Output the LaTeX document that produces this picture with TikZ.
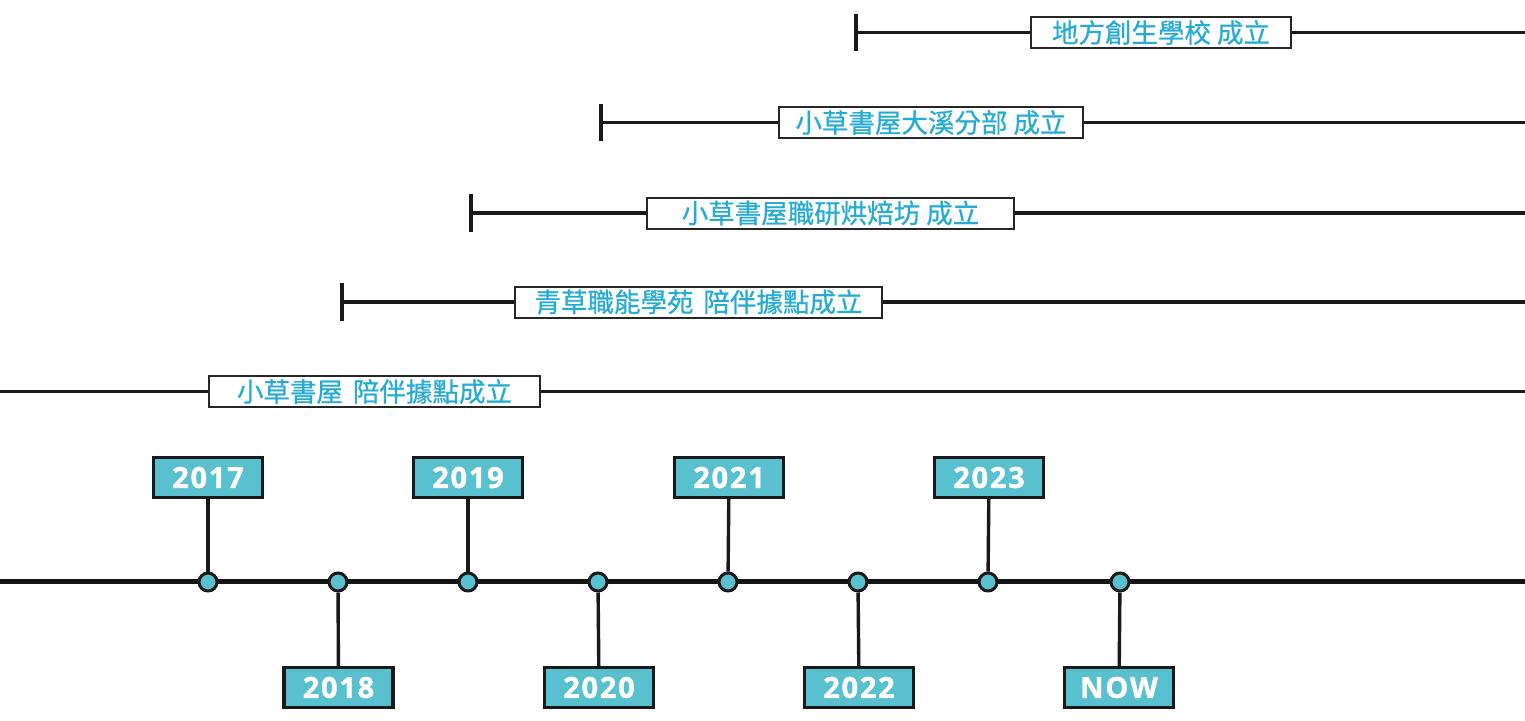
\documentclass[tikz,border=0pt]{standalone}
\usepackage{fontspec}
\newfontfamily\cjk{Noto Sans CJK TC}[FakeBold=0.7]
\newfontfamily\yearfont{Open Sans}[LetterSpace=6,FakeBold=1.2]
\definecolor{labeltext}{RGB}{38,172,212}
\definecolor{teal}{RGB}{88,192,206}
\begin{document}
\begin{tikzpicture}[x=1pt,y=-1pt,
  rangeline/.style={line width=3.2pt,black!90},
  tickline/.style={line width=3.8pt,black!90},
  labelbox/.style={draw=black!85,line width=2pt,fill=white,inner sep=0pt,
    minimum height=31pt,text=labeltext,font=\cjk\fontsize{26.5}{26.5}\selectfont},
  yearbox/.style={draw=black!90,line width=3.2pt,fill=teal,inner sep=0pt,
    minimum width=109pt,minimum height=40pt,text=white,
    font=\yearfont\bfseries\fontsize{29}{29}\selectfont},
  dot/.style={circle,draw=black!90,line width=3pt,fill=teal,inner sep=0pt,minimum size=18pt},
  stem/.style={line width=3.4pt,black!90},
  axis/.style={line width=5pt,black!92}]
\useasboundingbox (0,0) rectangle (1525,720);

% range labels
\node[labelbox,minimum width=260pt] (l1) at (1161,32.5) {地方創生學校\hspace{6pt}成立};
\node[labelbox,minimum width=304pt] (l2) at (931,122.5) {小草書屋大溪分部\hspace{6pt}成立};
\node[labelbox,minimum width=367pt] (l3) at (830.5,213) {小草書屋職研烘焙坊\hspace{6pt}成立};
\node[labelbox,minimum width=367pt] (l4) at (698.5,302) {青草職能學苑\hspace{10pt}陪伴據點成立};
\node[labelbox,minimum width=331pt] (l5) at (374.5,391.5) {小草書屋\hspace{10pt}陪伴據點成立};

\coordinate (s1) at (856,32.5); \coordinate (e1) at (1525,32.5);
\coordinate (s2) at (601,122.5); \coordinate (e2) at (1525,122.5);
\coordinate (s3) at (471,213); \coordinate (e3) at (1525,213);
\coordinate (s4) at (342,302); \coordinate (e4) at (1525,302);
\coordinate (s5) at (0,391.5); \coordinate (e5) at (1525,391.5);

\draw[rangeline] (s1) -- (l1.west); \draw[rangeline] (l1.east) -- (e1);
\draw[rangeline] (s2) -- (l2.west); \draw[rangeline] (l2.east) -- (e2);
\draw[rangeline] (s3) -- (l3.west); \draw[rangeline] (l3.east) -- (e3);
\draw[rangeline] (s4) -- (l4.west); \draw[rangeline] (l4.east) -- (e4);
\draw[rangeline] (s5) -- (l5.west); \draw[rangeline] (l5.east) -- (e5);

\draw[tickline] ([yshift=-18.5pt]s1) -- ([yshift=18.5pt]s1);
\draw[tickline] ([yshift=-18.5pt]s2) -- ([yshift=18.5pt]s2);
\draw[tickline] ([yshift=-19pt]s3) -- ([yshift=19pt]s3);
\draw[tickline] ([yshift=-19pt]s4) -- ([yshift=19pt]s4);

% axis
\coordinate (axL) at (0,581); \coordinate (axR) at (1525,581);
\draw[axis] (axL) -- (axR);

% year boxes
\node[yearbox] (y17) at (208,477.5) {2017};
\node[yearbox] (y18) at (338.5,687.5) {2018};
\node[yearbox] (y19) at (468,477.5) {2019};
\node[yearbox] (y20) at (599,687.5) {2020};
\node[yearbox] (y21) at (729,477.5) {2021};
\node[yearbox] (y22) at (859,687.5) {2022};
\node[yearbox] (y23) at (989,477.5) {2023};
\node[yearbox] (ynow) at (1119,687.5) {NOW};

% dots
\node[dot] (d17) at (208,582) {};
\node[dot] (d18) at (338,582) {};
\node[dot] (d19) at (468,582) {};
\node[dot] (d20) at (598,582) {};
\node[dot] (d21) at (728,582) {};
\node[dot] (d22) at (858,582) {};
\node[dot] (d23) at (988,582) {};
\node[dot] (dnow) at (1120,582) {};

\draw[stem] (d17) -- (y17);
\draw[stem] (d18) -- (y18);
\draw[stem] (d19) -- (y19);
\draw[stem] (d20) -- (y20);
\draw[stem] (d21) -- (y21);
\draw[stem] (d22) -- (y22);
\draw[stem] (d23) -- (y23);
\draw[stem] (dnow) -- (ynow);
\end{tikzpicture}
\end{document}
